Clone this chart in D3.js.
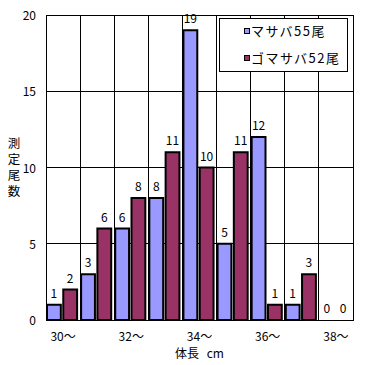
<!DOCTYPE html>
<html>
<head>
<meta charset="utf-8">
<script src="https://cdn.jsdelivr.net/npm/d3@7"></script>
<style>
  body { margin: 0; background: #fff; }
  text { font-family: "Noto Sans CJK JP", "DejaVu Sans", sans-serif; fill: #000; }
</style>
</head>
<body>
<script>
// data
var categories = ["30", "31", "32", "33", "34", "35", "36", "37", "38"];
var tickLabels = ["30～", "", "32～", "", "34～", "", "36～", "", "38～"];
var seriesNames = ["マサバ55尾", "ゴマサバ52尾"];
var masaba = [1, 3, 6, 8, 19, 5, 12, 1, 0];
var gomasaba = [2, 6, 8, 11, 10, 11, 1, 3, 0];
var yTicks = [0, 5, 10, 15, 20];
var colors = ["#9999FF", "#993366"];

var width = 371;
var height = 365;

// plot area edges (window.top is reserved, so own names)
var plotL = 46, plotR = 353, plotT = 15, plotB = 320;

var svg = d3.select("body").append("svg")
    .attr("width", width)
    .attr("height", height);

svg.append("rect")
    .attr("width", width)
    .attr("height", height)
    .attr("fill", "#fff");

var x = d3.scaleBand()
    .domain(categories)
    .range([plotL, plotR]);

var xSub = d3.scaleBand()
    .domain(seriesNames)
    .range([1, x.bandwidth() - 3])
    .paddingInner(0.15);

var y = d3.scaleLinear()
    .domain([0, 20])
    .range([plotB, plotT]);

// grid
svg.append("g").selectAll("line")
    .data(yTicks)
    .join("line")
    .attr("x1", plotL).attr("x2", plotR)
    .attr("y1", d => y(d)).attr("y2", d => y(d))
    .attr("stroke", "#000")
    .attr("shape-rendering", "crispEdges");

svg.append("g").selectAll("line")
    .data(categories)
    .join("line")
    .attr("x1", d => x(d)).attr("x2", d => x(d))
    .attr("y1", plotT).attr("y2", plotB)
    .attr("stroke", "#000")
    .attr("shape-rendering", "crispEdges");

var rows = categories.map((c, i) => ({cat: c, vals: [masaba[i], gomasaba[i]]}));

// bars
var groups = svg.append("g").selectAll("g")
    .data(rows)
    .join("g")
    .attr("transform", d => "translate(" + x(d.cat) + ",0)");

groups.selectAll("rect")
    .data(d => d.vals.map((v, j) => ({name: seriesNames[j], v: v, j: j})).filter(e => e.v > 0))
    .join("rect")
    .attr("x", e => xSub(e.name))
    .attr("width", xSub.bandwidth())
    .attr("y", e => y(e.v))
    .attr("height", e => y(0) - y(e.v))
    .attr("fill", e => colors[e.j])
    .attr("stroke", "#000")
    .attr("stroke-width", 2);

groups.selectAll("text")
    .data(d => d.vals.map((v, j) => ({name: seriesNames[j], v: v})))
    .join("text")
    .attr("x", e => xSub(e.name) + xSub.bandwidth() / 2)
    .attr("y", e => y(e.v) - 7)
    .attr("text-anchor", "middle")
    .style("font-size", "12px")
    .text(e => e.v);

// frame, drawn over the labels like the original
svg.append("rect")
    .attr("x", plotL).attr("y", plotT)
    .attr("width", plotR - plotL).attr("height", plotB - plotT)
    .attr("fill", "none")
    .attr("stroke", "#000")
    .attr("shape-rendering", "crispEdges");

// y axis labels
svg.append("g").selectAll("text")
    .data(yTicks)
    .join("text")
    .attr("x", 36)
    .attr("y", d => y(d) + 5)
    .attr("text-anchor", "end")
    .style("font-size", "12px")
    .text(d => d);

// x axis labels
svg.append("g").selectAll("text")
    .data(categories)
    .join("text")
    .attr("x", d => x(d) + x.bandwidth() / 2)
    .attr("y", 341)
    .attr("text-anchor", "middle")
    .style("font-size", "12px")
    .text((d, i) => tickLabels[i]);

svg.append("text")
    .attr("x", (plotL + plotR) / 2)
    .attr("y", 358)
    .attr("text-anchor", "middle")
    .style("font-size", "12px")
    .style("word-spacing", "5px")
    .text("体長 cm");

// y title, vertical
svg.append("text")
    .attr("x", 14)
    .attr("y", 137)
    .style("writing-mode", "vertical-rl")
    .style("font-size", "12.5px")
    .style("letter-spacing", "3.5px")
    .text("測定尾数");

// legend
var legend = svg.append("g");
legend.append("rect")
    .attr("x", 219.5).attr("y", 18.5)
    .attr("width", 128).attr("height", 53)
    .attr("fill", "#fff")
    .attr("stroke", "#000");

var item = legend.selectAll("g")
    .data(seriesNames)
    .join("g")
    .attr("transform", (d, i) => "translate(244," + (28 + i * 27) + ")");

item.append("rect")
    .attr("x", 0.5).attr("y", 0.5)
    .attr("width", 5).attr("height", 5)
    .attr("fill", (d, i) => colors[i])
    .attr("stroke", "#000");

item.append("text")
    .attr("x", 7)
    .attr("y", 8)
    .style("font-size", "13px")
    .style("letter-spacing", "1.5px")
    .text(d => d);
</script>
</body>
</html>
